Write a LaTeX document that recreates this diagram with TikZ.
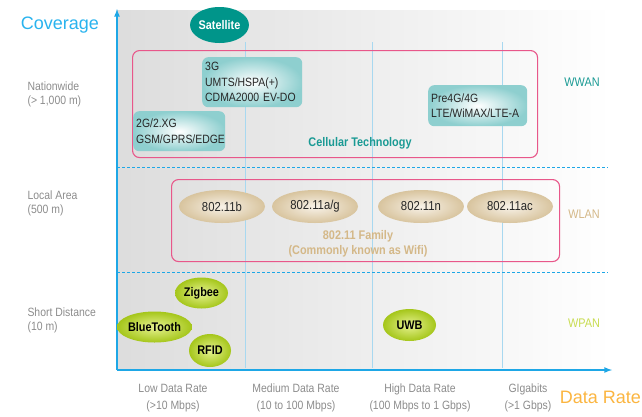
\documentclass[tikz,border=0pt]{standalone}
\usepackage{xcolor}
\usepackage{fontspec}
\setmainfont{Liberation Sans}[FakeStretch=0.87]
\newfontfamily\widefont{Liberation Sans}
\usepackage{tikz}
\usetikzlibrary{shapes.geometric}

\definecolor{axisblue}{HTML}{1EA7E6}
\definecolor{gridblue}{HTML}{A8D8F0}
\definecolor{familypink}{HTML}{E8578A}
\definecolor{cellteal}{HTML}{1A9A94}
\definecolor{satteal}{HTML}{00958A}
\definecolor{boxteal}{HTML}{8ECFCF}
\definecolor{tanouter}{HTML}{D8C49E}
\definecolor{taninner}{HTML}{F8F2E8}
\definecolor{tantext}{HTML}{D4B888}
\definecolor{greenouter}{HTML}{A5C61A}
\definecolor{greeninner}{HTML}{E6F290}
\definecolor{wpangreen}{HTML}{C8DC50}
\definecolor{labelgray}{HTML}{8C8C8C}
\definecolor{darktext}{HTML}{262626}
\definecolor{rateorange}{HTML}{FBB540}
\definecolor{covblue}{HTML}{29B3EE}

\begin{document}
\begin{tikzpicture}[
				x=1pt, y=-1pt,
				axisline/.style={draw=axisblue, line width=1.6pt, -latex},
				gridline/.style={draw=gridblue, line width=0.9pt},
				bandline/.style={draw=axisblue, line width=0.9pt, dash pattern=on 3pt off 2pt},
				familybox/.style={rectangle, draw=familypink, line width=1.1pt, rounded corners=7pt, anchor=north west, inner sep=0pt},
				techbox/.style={rectangle, rounded corners=6pt, inner color=white, outer color=boxteal, anchor=north west, align=left, inner xsep=3pt, text=darktext, font=\fontsize{12}{15.5}\selectfont},
				wifinode/.style={ellipse, inner color=taninner, outer color=tanouter, minimum width=86pt, minimum height=33pt, inner sep=0pt, text=darktext, font=\fontsize{13}{15}\selectfont},
				pannode/.style={ellipse, inner color=greeninner, outer color=greenouter, minimum height=31pt, inner sep=0pt, text=black, font=\fontsize{12.5}{15}\selectfont\bfseries},
				sidelabel/.style={anchor=west, align=left, text=labelgray, font=\fontsize{12}{14}\selectfont},
				ratelabel/.style={align=center, text=labelgray, font=\fontsize{12}{16.5}\selectfont},
				netlabel/.style={font=\fontsize{12.5}{15}\selectfont},
				]
				%Background
				\useasboundingbox (0,0) rectangle (642,416);
				\shade[left color=gray!27, right color=white] (117,10) rectangle (612,370);
				
				%Grid
				\foreach \gx in {245.5,372,502}
				\draw[gridline] (\gx,42) -- (\gx,368);
				\foreach \gy in {167,272}
				\draw[bandline] (117,\gy) -- (608,\gy);
				
				%Axes
				\coordinate (origin) at (117,370);
				\coordinate (ytop) at (117,9);
				\coordinate (xend) at (612,370);
				\draw[axisline] (origin) -- (ytop);
				\draw[axisline] (origin) -- (xend);
				\node[text=covblue, font=\widefont\fontsize{18}{20}\selectfont] (coverage) at (60,25) {Coverage};
				\node[text=rateorange, font=\widefont\fontsize{18}{20}\selectfont, anchor=east, inner sep=1pt] (datarate) at (642,397) {Data Rate};
				
				%Side labels
				\node[sidelabel] (nationwide) at (24,94) {Nationwide\\(> 1,000 m)};
				\node[sidelabel] (localarea) at (24,203) {Local Area\\(500 m)};
				\node[sidelabel] (shortdist) at (24,320) {Short Distance\\(10 m)};
				
				%Rate labels
				\node[ratelabel] (lowrate) at (173,398) {Low Data Rate\\(>10 Mbps)};
				\node[ratelabel] (medrate) at (296,398) {Medium Data Rate\\(10 to 100 Mbps)};
				\node[ratelabel] (highrate) at (420,398) {High Data Rate\\(100 Mbps to 1 Gbps)};
				\node[ratelabel] (gigarate) at (528,398) {GIgabits\\(>1 Gbps)};
				
				%Families
				\node[familybox, minimum width=405pt, minimum height=107pt] (cellular) at (132,50) {};
				\node[familybox, minimum width=388pt, minimum height=82pt] (wifi) at (171,179) {};
				\node[text=cellteal, font=\fontsize{12.5}{15}\selectfont\bfseries] (celltext) at (360,143) {Cellular Technology};
				\node[text=tantext, align=center, font=\fontsize{12.5}{15}\selectfont\bfseries] (wifitext) at (358,244) {802.11 Family\\(Commonly known as Wifi)};
				\node[netlabel, text=cellteal] (wwan) at (582,82) {WWAN};
				\node[netlabel, text=tantext] (wlan) at (584,214) {WLAN};
				\node[netlabel, text=wpangreen] (wpan) at (584,323) {WPAN};
				
				%Nodes
				\node[ellipse, fill=satteal, minimum width=57pt, minimum height=36pt, inner sep=0pt, text=white, font=\fontsize{12.5}{15}\selectfont\bfseries] (satellite) at (219.5,25) {Satellite};
				\node[techbox, text width=94pt, minimum height=50pt] (gen3) at (202,57) {3G\\UMTS/HSPA(+)\\CDMA2000 EV-DO};
				\node[techbox, text width=86pt, minimum height=40pt] (gen2) at (133,111) {2G/2.XG\\GSM/GPRS/EDGE};
				\node[techbox, text width=93pt, minimum height=41pt] (gen4) at (428,85) {Pre4G/4G\\LTE/WiMAX/LTE-A};
				
				\node[wifinode] (wifib) at (222,206.5) {802.11b};
				\node[wifinode] (wifiag) at (315,206.5) {802.11a/g};
				\node[wifinode] (wifin) at (421,206.5) {802.11n};
				\node[wifinode] (wifiac) at (510,206.5) {802.11ac};
				
				\node[pannode, minimum width=53pt] (zigbee) at (201.5,293) {Zigbee};
				\node[pannode, minimum width=65pt] (bluetooth) at (154.5,327) {BlueTooth};
				\node[pannode, minimum width=42pt, minimum height=33pt] (rfid) at (210,350.5) {RFID};
				\node[pannode, minimum width=53pt, minimum height=32pt] (uwb) at (409.5,325) {UWB};
				
			\end{tikzpicture}
\end{document}
